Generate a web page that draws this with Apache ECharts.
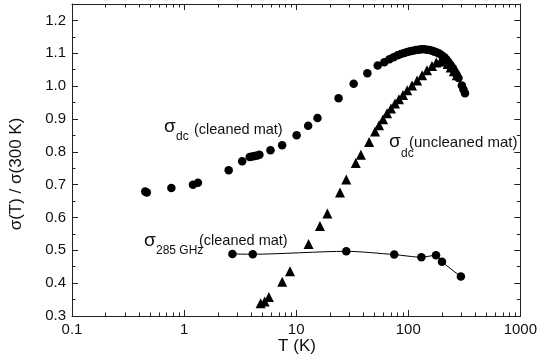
<!DOCTYPE html>
<html><head><meta charset="utf-8">
<script src="https://cdn.jsdelivr.net/npm/echarts@6/dist/echarts.min.js"></script>
<style>html,body{margin:0;padding:0;background:#fff}#c{width:540px;height:360px}</style>
</head><body><div id="c"></div><script>
// ---- data ----
const cleanedDcT = [0.45,0.465,0.77,1.2,1.33,2.5,3.3,3.85,4.05,4.26,4.5,4.7,5.9,7.5,10.1,12.8,15.5,23.9,32.6,43.2,53.4,61.2,68,74,80.5,86,92,98,104,110,117,124,131,139,147,155,163,171,180,189,199,210,218,226,234,242,250,257,264,271,281,301,311,321];
const cleanedDcS = [0.679,0.676,0.690,0.700,0.706,0.744,0.771,0.784,0.786,0.787,0.789,0.791,0.805,0.820,0.850,0.879,0.903,0.963,1.007,1.039,1.063,1.073,1.082,1.088,1.094,1.098,1.101,1.104,1.106,1.108,1.110,1.111,1.112,1.112,1.111,1.110,1.108,1.105,1.102,1.099,1.094,1.088,1.082,1.075,1.068,1.061,1.054,1.047,1.040,1.034,1.025,1.002,0.990,0.978];
const uncleanedDcT = [4.82,5.23,5.71,7.51,8.81,12.9,16.3,19.0,24.6,28.0,34.0,37.8,44.8,50.6,54.9,59.6,64.7,70.2,76.2,82.6,89.8,98,108,120,133,147,163,178,194,208,225,239,255,271];
const uncleanedDcS = [0.339,0.344,0.358,0.404,0.436,0.519,0.574,0.612,0.676,0.716,0.766,0.791,0.830,0.862,0.881,0.899,0.917,0.932,0.947,0.960,0.973,0.987,1.002,1.017,1.033,1.048,1.061,1.072,1.076,1.075,1.067,1.057,1.045,1.033];
const ghzT = [2.7,4.1,28,75,131,177,200,295];
const ghzS = [0.489,0.488,0.497,0.487,0.479,0.485,0.465,0.420];
const xTickLabels = ['0.1','1','10','100','1000'];
const yTickLabels = ['0.3','0.4','0.5','0.6','0.7','0.8','0.9','1.0','1.1','1.2'];

// ---- ticks ----
const xMajor = xTickLabels.map(Number);
const xMinor = [];
for (let d = 0; d < xMajor.length - 1; d++) for (let k = 2; k <= 9; k++) xMinor.push(+(xMajor[d] * k).toPrecision(3));
const yMajor = yTickLabels.map(Number);
const yMinor = yMajor.map(v => +(v + 0.05).toFixed(2));

const FONT = '"Liberation Sans", Arial, Helvetica, sans-serif';
const AX = '#222';
function xAx(pos, major) {
  return {
    type: 'log', logBase: 10, min: 0.1, max: 1000, position: pos, gridIndex: 0,
    axisLine: { show: major, onZero: false, lineStyle: { color: AX, width: 1 } },
    axisTick: major ? { show: true, inside: true, length: 6, customValues: xMajor, lineStyle: { color: AX } }
                    : { show: true, inside: true, length: 3.5, customValues: xMinor, lineStyle: { color: AX } },
    axisLabel: (major && pos === 'bottom') ? {
      show: true, color: '#111', fontSize: 15, fontFamily: FONT, margin: 6,
      customValues: xMajor,
      formatter: v => xTickLabels[xMajor.findIndex(m => Math.abs(Math.log10(m) - Math.log10(v)) < 1e-6)] || ''
    } : { show: false },
    splitLine: { show: false }, minorTick: { show: false }
  };
}
function yAx(pos, major) {
  return {
    type: 'value', min: 0.3, max: 1.25, position: pos, gridIndex: 0,
    axisLine: { show: major, onZero: false, lineStyle: { color: AX, width: 1 } },
    axisTick: major ? { show: true, inside: true, length: 6, customValues: yMajor, lineStyle: { color: AX } }
                    : { show: true, inside: true, length: 3.5, customValues: yMinor, lineStyle: { color: AX } },
    axisLabel: (major && pos === 'left') ? {
      show: true, color: '#111', fontSize: 15, fontFamily: FONT, margin: 6,
      customValues: yMajor,
      formatter: v => yTickLabels[yMajor.findIndex(m => Math.abs(m - v) < 1e-6)] || ''
    } : { show: false },
    splitLine: { show: false }
  };
}

const chart = echarts.init(document.getElementById('c'), null, { renderer: 'canvas' });
chart.setOption({
  animation: false,
  backgroundColor: '#fff',
  grid: { left: 72, right: 18, top: 4, bottom: 44, containLabel: false },
  xAxis: [xAx('bottom', true), xAx('bottom', false), xAx('top', true), xAx('top', false)],
  yAxis: [yAx('left', true), yAx('left', false), yAx('right', true), yAx('right', false)],
  series: [
    { type: 'scatter', xAxisIndex: 0, yAxisIndex: 0, symbol: 'circle', symbolSize: 8.5,
      itemStyle: { color: '#000', opacity: 1 }, data: cleanedDcT.map((t, i) => [t, cleanedDcS[i]]) },
    { type: 'scatter', xAxisIndex: 0, yAxisIndex: 0, symbol: 'triangle', symbolSize: 10,
      itemStyle: { color: '#000', opacity: 1 }, data: uncleanedDcT.map((t, i) => [t, uncleanedDcS[i]]) },
    { type: 'line', xAxisIndex: 0, yAxisIndex: 0, symbol: 'circle', symbolSize: 8.5, showSymbol: true,
      smooth: 0.25, itemStyle: { color: '#000', opacity: 1 }, lineStyle: { color: '#000', width: 1 },
      data: ghzT.map((t, i) => [t, ghzS[i]]) }
  ],
  graphic: [
    { type: 'text', x: 16, y: 174, rotation: Math.PI / 2, style: { text: 'σ(T) / σ(300 K)', font: '17px ' + FONT, fill: '#111', align: 'center', verticalAlign: 'middle' } },
    { type: 'text', x: 297, y: 346, style: { text: 'T (K)', font: '17px ' + FONT, fill: '#111', align: 'center', verticalAlign: 'middle' } },
    // sigma_dc (cleaned mat)
    { type: 'text', x: 164, y: 127, style: { text: 'σ', font: '19px ' + FONT, fill: '#111', align: 'left', verticalAlign: 'middle' } },
    { type: 'text', x: 176, y: 137, style: { text: 'dc', font: '12px ' + FONT, fill: '#111', align: 'left', verticalAlign: 'middle' } },
    { type: 'text', x: 194, y: 129.5, style: { text: '(cleaned mat)', font: '14.5px ' + FONT, fill: '#111', align: 'left', verticalAlign: 'middle' } },
    // sigma_dc (uncleaned mat)
    { type: 'text', x: 389, y: 142, style: { text: 'σ', font: '19px ' + FONT, fill: '#111', align: 'left', verticalAlign: 'middle' } },
    { type: 'text', x: 401, y: 153.5, style: { text: 'dc', font: '12px ' + FONT, fill: '#111', align: 'left', verticalAlign: 'middle' } },
    { type: 'text', x: 409, y: 142.5, style: { text: '(uncleaned mat)', font: '15px ' + FONT, fill: '#111', align: 'left', verticalAlign: 'middle' } },
    // sigma_285GHz (cleaned mat)
    { type: 'text', x: 144, y: 240.5, style: { text: 'σ', font: '19px ' + FONT, fill: '#111', align: 'left', verticalAlign: 'middle' } },
    { type: 'text', x: 156, y: 250.5, style: { text: '285 GHz', font: '12px ' + FONT, fill: '#111', align: 'left', verticalAlign: 'middle' } },
    { type: 'text', x: 199, y: 240.5, style: { text: '(cleaned mat)', font: '14.5px ' + FONT, fill: '#111', align: 'left', verticalAlign: 'middle' } }
  ]
});
</script></body></html>
